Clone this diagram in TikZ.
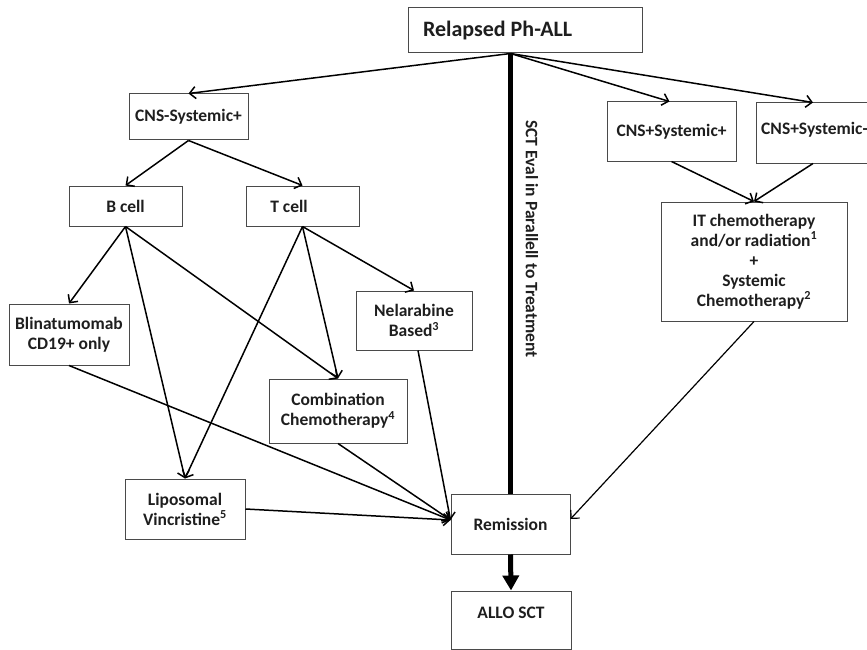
\documentclass[tikz,border=0pt]{standalone}
\usepackage{fontspec}
\setmainfont{Carlito}
\usetikzlibrary{arrows.meta,calc}
\definecolor{boxline}{HTML}{4A4A4A}
\definecolor{txt}{HTML}{1E1E1E}
\begin{document}
\begin{tikzpicture}[x=1pt,y=-1pt,
  box/.style={draw=boxline,line width=1pt,rectangle,inner sep=0pt,align=center,
    font=\fontsize{17.5}{20}\selectfont\bfseries,text=txt},
  lbl/.style={inner sep=0pt,font=\fontsize{17.5}{20}\selectfont\bfseries,text=txt},
  conn/.style={line width=1.5pt,-{Straight Barb[length=6pt,width=12pt,line width=1.5pt]}},
  thin/.style={line width=1.2pt,-{Straight Barb[length=6pt,width=12pt,line width=1.2pt]}},
  thick/.style={line width=5pt}
]
\useasboundingbox (0,0) rectangle (867,650);
% boxes
\node[box,minimum width=234,minimum height=45,text width=204,align=flush left,
  font=\fontsize{22}{24}\selectfont\bfseries] (rel) at (525,30.5) {Relapsed Ph-ALL};
\node[box,minimum width=119,minimum height=46] (cnsm) at (188.5,117) {CNS-Systemic+};
\node[box,minimum width=113,minimum height=40] (bcell) at (125.5,206) {B cell};
\node[box,minimum width=113,minimum height=40] (tcell) at (302.5,206) {};
\node[lbl] (tcelltxt) at (289,206) {T cell};
\node[box,minimum width=120,minimum height=61] (blin) at (69,334.5) {Blinatumomab\\CD19+ only};
\node[box,minimum width=116,minimum height=59] (nel) at (414,320.5) {Nelarabine\\Based\textsuperscript{3}};
\node[box,minimum width=138,minimum height=64] (comb) at (338,411) {Combination\\Chemotherapy\textsuperscript{4}};
\node[box,minimum width=120,minimum height=60] (lipo) at (185,509) {Liposomal\\Vincristine\textsuperscript{5}};
\node[box,minimum width=119,minimum height=60] (rem) at (510.5,524) {Remission};
\node[box,minimum width=120,minimum height=58] (allo) at (511,620) {};
\node[lbl] (allotxt) at (511,613) {ALLO SCT};
\node[box,minimum width=129,minimum height=59] (cnsp) at (671.5,131.5) {CNS+Systemic+};
\node[box,minimum width=124,minimum height=60] (cnsn) at (818,133) {};
\node[lbl,anchor=west] (cnsntxt) at (761,130) {CNS+Systemic-};
\node[box,minimum width=186,minimum height=119] (it) at (754,261.5)
  {IT chemotherapy\\and/or radiation\textsuperscript{1}\\+\\Systemic\\Chemotherapy\textsuperscript{2}};
% vertical text
\node[lbl,rotate=-90] (sct) at (532,239) {SCT Eval in Parallell to Treatment};
% coordinates
\coordinate (relout) at (rel.south -| rem.north);
\coordinate (remin) at ($(rem.west)+(0,-4)$);
\coordinate (remright) at ($(rem.east)+(0,-5)$);
% thick spine
\draw[thick] (relout) -- (rem.north);
\draw[thick,-{Triangle[length=15pt,width=16pt]}] (rem.south) -- (allo.north);
% top fan
\draw[conn] (relout) -- (cnsm.north);
\draw[conn] (relout) -- ([xshift=-2]cnsp.north);
\draw[conn] (relout) -- ([xshift=-5]cnsn.north);
% CNS- branch
\draw[conn] (cnsm.south) -- (bcell.north);
\draw[conn] (cnsm.south) -- (tcell.north);
\draw[conn] (bcell.south) -- (blin.north);
\draw[conn] (bcell.south) -- (lipo.north);
\draw[conn] (bcell.south) -- (comb.north);
\draw[conn] (tcell.south) -- (lipo.north);
\draw[conn] (tcell.south) -- (comb.north);
\draw[conn] (tcell.south) -- (nel.north);
% to remission
\draw[conn] (blin.south) -- (remin);
\draw[conn] (lipo.east) -- (remin);
\draw[conn] (comb.south) -- (remin);
\draw[conn] ([xshift=4]nel.south) -- (remin);
% right branch
\draw[conn] (cnsp.south) -- (it.north);
\draw[conn] ([xshift=-5]cnsn.south) -- (it.north);
\draw[thin] (it.south) -- (remright);
\end{tikzpicture}
\end{document}
